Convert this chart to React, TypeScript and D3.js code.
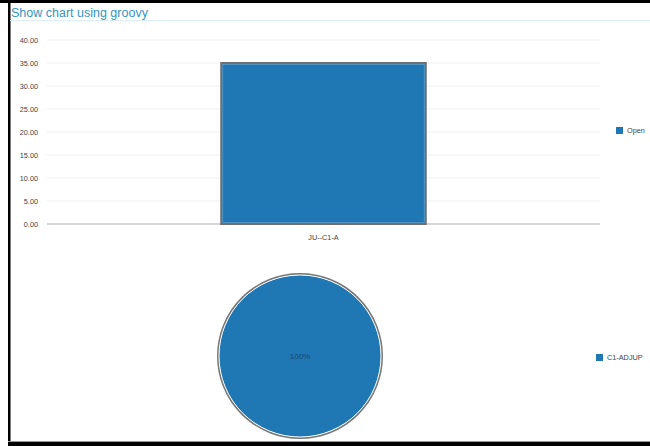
import React from "react";
import * as d3 from "d3";

const categories = ["JU--C1-A"];
const openValues = [35];
const yTicks = [0, 5, 10, 15, 20, 25, 30, 35, 40];
const barSeries = "Open";
const pieLabels = ["C1-ADJUP"];
const pieValues = [1];

const W = 650;
const H = 446;
const color = "#1f77b4";
const font = "Liberation Sans, Arial, sans-serif";

export default function App() {
  const x = d3.scaleBand<string>().domain(categories).range([47, 600]).paddingInner(0.46).paddingOuter(0.46);
  const y = d3.scaleLinear().domain([0, 40]).range([224, 40]);
  const pie = d3.pie<number>().sort(null)(pieValues);
  const r = 81;
  const arc = d3.arc<d3.PieArcDatum<number>>().innerRadius(0).outerRadius(r);
  const total = d3.sum(pieValues);
  const cx = 300, cy = 356;

  return (
    <svg width={W} height={H} style={{ position: "absolute", left: 0, top: 0, background: "#fff" }} fontFamily={font}>
      {/* frame */}
      <rect x={0} y={0} width={W} height={3} fill="#000" />
      <rect x={8} y={0} width={2.5} height={H} fill="#000" />
      <rect x={8} y={441} width={W - 8} height={1} fill="#999" />
      <rect x={8} y={442} width={W - 8} height={4} fill="#000" />
      {/* title */}
      <text x={11} y={17} fontSize={12.5} fill="#3596bd">Show chart using groovy</text>
      <line x1={10} x2={W} y1={20.5} y2={20.5} stroke="#dcedf6" strokeWidth={1} />
      {/* grid */}
      {yTicks.map((t) => (
        <g key={t}>
          <line x1={47} x2={600} y1={y(t)} y2={y(t)} stroke={t === 0 ? "#c8c8c8" : "#f0f0f0"} strokeWidth={t === 0 ? 1.5 : 1} />
          <text x={38} y={y(t) + 2.5} fontSize={7.3} textAnchor="end" fill="#444">{t.toFixed(2)}</text>
        </g>
      ))}
      {/* bars */}
      {categories.map((c, i) => (
        <g key={c}>
          <rect x={x(c)!} y={y(openValues[i])} width={x.bandwidth()} height={y(0) - y(openValues[i])}
            fill={color} stroke="#6f6f6f" strokeWidth={2} />
          <rect x={x(c)! + 1.5} y={y(openValues[i]) + 1.5} width={x.bandwidth() - 3} height={y(0) - y(openValues[i]) - 3}
            fill="none" stroke="#5a9bc9" strokeWidth={0.8} />
          <text x={x(c)! + x.bandwidth() / 2} y={240} fontSize={7.3} textAnchor="middle" fill="#444">{c}</text>
        </g>
      ))}
      {/* bar legend */}
      <rect x={616} y={127} width={7} height={7} fill={color} />
      <text x={627} y={133} fontSize={7.3} fill="#444">{barSeries}</text>
      {/* pie */}
      <g transform={`translate(${cx},${cy})`}>
        <circle r={r + 1} fill="none" stroke="#777" strokeWidth={2} />
        {pie.map((p, i) => (
          <path key={i} d={arc(p) || ""} fill={color} stroke="#fff" strokeWidth={1} />
        ))}
        {pie.map((p, i) => {
          const [lx, ly] = pie.length === 1 ? [0, 0] : arc.centroid(p);
          return (
            <text key={"t" + i} x={lx} y={ly + 3} fontSize={8} textAnchor="middle" fill="#1a4a6e">
              {Math.round((p.value / total) * 100)}%
            </text>
          );
        })}
      </g>
      {/* pie legend */}
      {pieLabels.map((l, i) => (
        <g key={l}>
          <rect x={596} y={354 + i * 12} width={7} height={7} fill={color} />
          <text x={607} y={360 + i * 12} fontSize={7.3} fill="#444">{l}</text>
        </g>
      ))}
    </svg>
  );
}
